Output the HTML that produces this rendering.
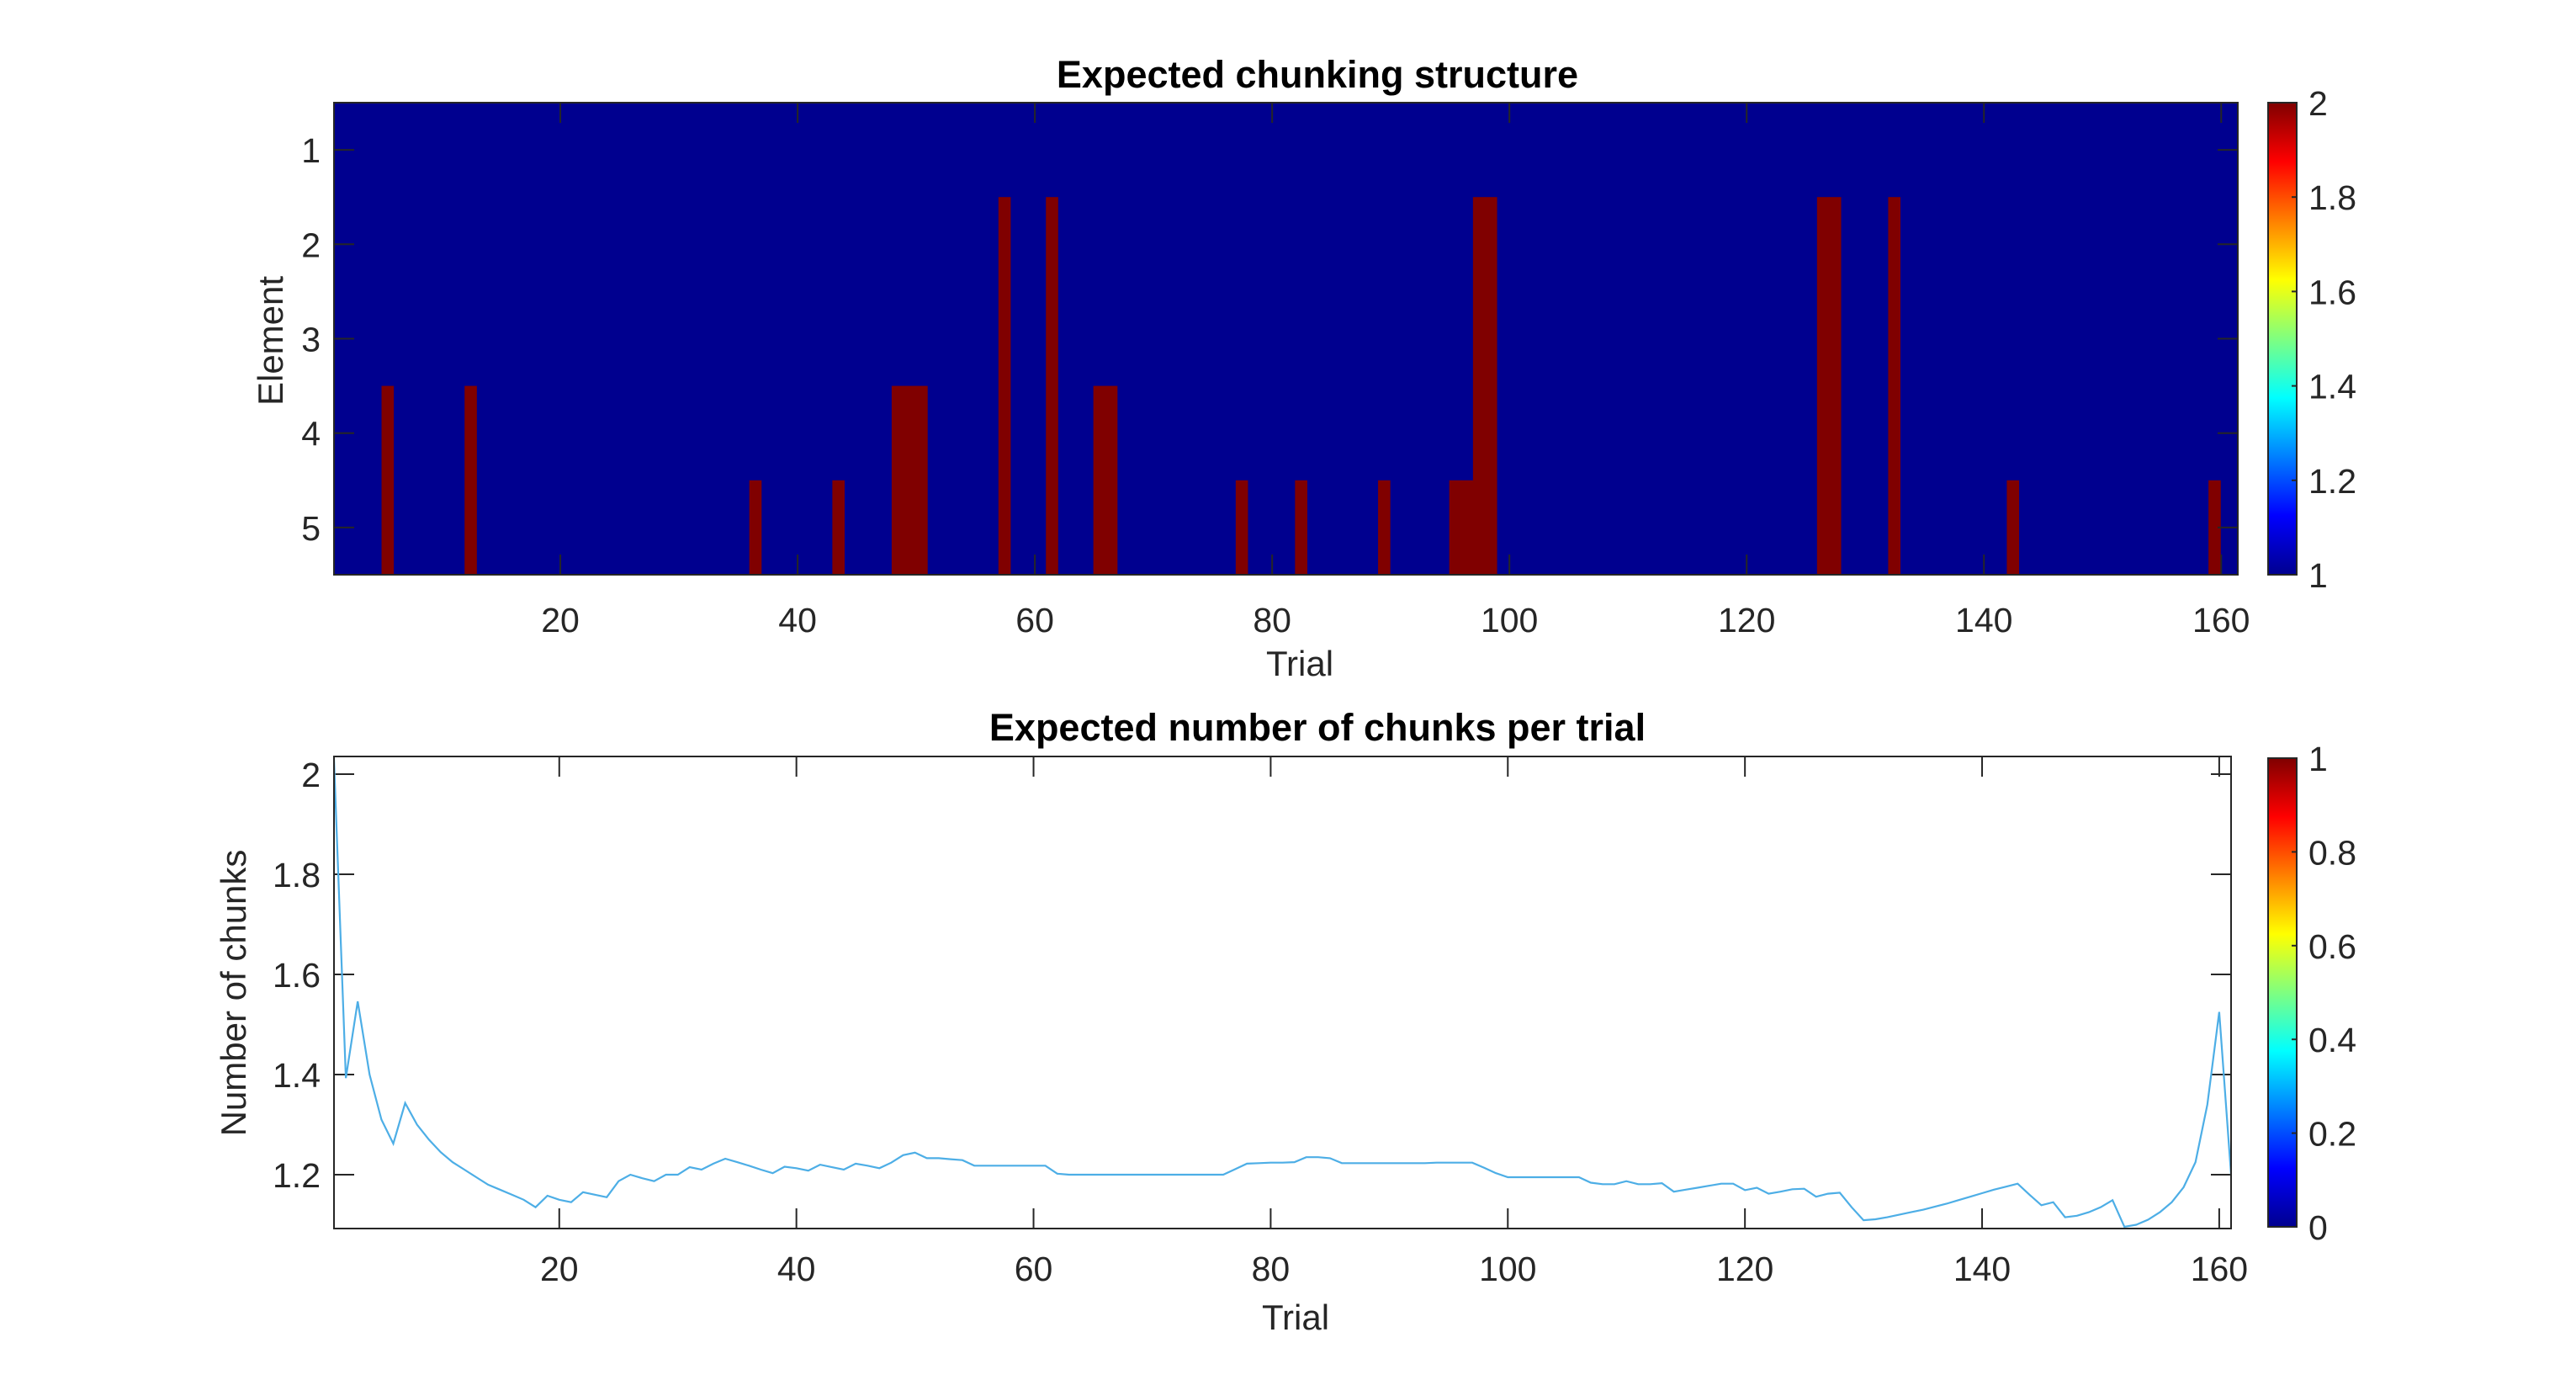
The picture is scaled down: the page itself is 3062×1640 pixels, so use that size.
<!DOCTYPE html>
<html><head><meta charset="utf-8"><style>
html,body{margin:0;padding:0;background:#fff;}
svg{display:block;font-family:"Liberation Sans",Arial,sans-serif;}
</style></head><body>
<svg id="fig" width="3062" height="1640" viewBox="0 0 3062 1640" xmlns="http://www.w3.org/2000/svg">
<defs>
<linearGradient id="jet" x1="0" y1="1" x2="0" y2="0">
<stop offset="0" stop-color="#00008F"/><stop offset="0.125" stop-color="#0000FF"/>
<stop offset="0.375" stop-color="#00FFFF"/><stop offset="0.625" stop-color="#FFFF00"/>
<stop offset="0.875" stop-color="#FF0000"/><stop offset="1" stop-color="#800000"/>
</linearGradient>
</defs>
<text x="1566" y="104" text-anchor="middle" font-size="45" font-weight="bold" fill="#000">Expected chunking structure</text>
<text x="1566" y="880" text-anchor="middle" font-size="45" font-weight="bold" fill="#000">Expected number of chunks per trial</text>
<text x="1545" y="803" text-anchor="middle" font-size="42" fill="#262626">Trial</text>
<text x="1540" y="1580" text-anchor="middle" font-size="42" fill="#262626">Trial</text>
<text transform="translate(336,405) rotate(-90)" text-anchor="middle" font-size="42" fill="#262626">Element</text>
<text transform="translate(292,1180) rotate(-90)" text-anchor="middle" font-size="42" fill="#262626">Number of chunks</text>
<g id="topAx"></g>
<g id="botAx"></g>
</svg>
<script>
// Heatmap data: trials with a chunk boundary (value 2) and the first element row it starts at (extends to row 5)
const chunkTrials = [5,12,36,43,48,49,50,57,61,65,66,77,82,89,95,96,97,98,126,127,132,142,159];
const chunkStartRow = [4,4,5,5,4,4,4,2,2,4,4,5,5,5,5,5,2,2,2,2,2,5,5];
const topXTicks = [20,40,60,80,100,120,140,160];
const topYTicks = [1,2,3,4,5];
const topCbTicks = [1,1.2,1.4,1.6,1.8,2];
// Line data
const nChunks = [2.03,1.393,1.546,1.40,1.31,1.262,1.343,1.30,1.27,1.245,1.225,1.21,1.195,1.18,1.17,1.16,1.15,1.135,1.158,1.15,
1.145,1.165,1.16,1.155,1.187,1.2,1.193,1.187,1.2,1.2,1.215,1.21,1.222,1.232,1.225,1.218,1.21,1.203,1.216,1.213,
1.208,1.22,1.215,1.21,1.222,1.218,1.213,1.224,1.239,1.244,1.233,1.233,1.231,1.229,1.218,1.218,1.218,1.218,1.218,1.218,
1.218,1.202,1.2,1.2,1.2,1.2,1.2,1.2,1.2,1.2,1.2,1.2,1.2,1.2,1.2,1.2,1.211,1.222,1.223,1.224,
1.224,1.225,1.235,1.235,1.233,1.223,1.223,1.223,1.223,1.223,1.223,1.223,1.223,1.224,1.224,1.224,1.224,1.214,1.203,1.195,
1.195,1.195,1.195,1.195,1.195,1.195,1.184,1.181,1.181,1.187,1.181,1.181,1.183,1.166,1.17,1.174,1.178,1.182,1.182,1.169,
1.174,1.162,1.166,1.171,1.172,1.156,1.162,1.164,1.135,1.109,1.111,1.115,1.12,1.125,1.13,1.136,1.142,1.149,1.156,1.163,
1.17,1.176,1.182,1.16,1.139,1.145,1.115,1.118,1.125,1.135,1.149,1.096,1.1,1.11,1.125,1.145,1.175,1.225,1.34,1.525,1.2];
const botXTicks = [20,40,60,80,100,120,140,160];
const botYTicks = [1.2,1.4,1.6,1.8,2];
const botYLabels = ["1.2","1.4","1.6","1.8","2"];
const botCbTicks = [0,0.2,0.4,0.6,0.8,1];

const NS="http://www.w3.org/2000/svg";
function mk(parent,tag,attrs){const e=document.createElementNS(NS,tag);for(const k in attrs)e.setAttribute(k,attrs[k]);parent.appendChild(e);return e;}
function lin(d0,d1,r0,r1){return v=>r0+(v-d0)*(r1-r0)/(d1-d0);}
const TC="#262626";

// ---------- Top heatmap ----------
const topG=document.getElementById('topAx');
const tL=397,tR=2660,tT=122,tB=683;
const xT=lin(0.92,161.4,tL,tR);
const yT=lin(0.5,5.5,tT,tB);
const bg=mk(topG,'rect',{x:tL,y:tT,width:tR-tL,height:tB-tT,fill:'#00008F'});


chunkTrials.forEach((t,i)=>{
  const r=mk(topG,'rect',{x:xT(t)-1,y:yT(chunkStartRow[i]-0.5),width:xT(t+1)-xT(t)+0.5,height:yT(5.5)-yT(chunkStartRow[i]-0.5),fill:'#800000'});
  
  
});
topXTicks.forEach(v=>{
  const x=xT(v);
  mk(topG,'line',{x1:x,y1:tB,x2:x,y2:tB-24,stroke:TC,'stroke-width':2});
  mk(topG,'line',{x1:x,y1:tT,x2:x,y2:tT+24,stroke:TC,'stroke-width':2});
  const tx=mk(topG,'text',{x:x,y:tB+68,'text-anchor':'middle','font-size':41,fill:TC});tx.textContent=v;
  
  
});
topYTicks.forEach(v=>{
  const y=yT(v);
  mk(topG,'line',{x1:tL,y1:y,x2:tL+24,y2:y,stroke:TC,'stroke-width':2});
  mk(topG,'line',{x1:tR,y1:y,x2:tR-24,y2:y,stroke:TC,'stroke-width':2});
  const tx=mk(topG,'text',{x:381,y:y+15,'text-anchor':'end','font-size':41,fill:TC});tx.textContent=v;
  
  
});
const bx=mk(topG,'rect',{x:tL,y:tT,width:tR-tL,height:tB-tT,fill:'none',stroke:TC,'stroke-width':2});


const cL=2696,cR=2730;
const cbT=lin(1,2,683,122);
const cb=mk(topG,'rect',{x:cL,y:122,width:cR-cL,height:561,fill:'url(#jet)',stroke:TC,'stroke-width':2});


topCbTicks.forEach(v=>{
  const y=cbT(v);
  mk(topG,'line',{x1:cR,y1:y,x2:cR-6,y2:y,stroke:TC,'stroke-width':2});
  const tx=mk(topG,'text',{x:2744,y:y+15,'font-size':41,fill:TC});tx.textContent=v;
  
  
});

// ---------- Bottom line ----------
const botG=document.getElementById('botAx');
const bL=397,bR=2652,bT=899,bB=1460;
const xB=lin(1,161,bL,bR);
const yB=lin(2,1.2,920,1396);
botXTicks.forEach(v=>{
  const x=xB(v);
  mk(botG,'line',{x1:x,y1:bB,x2:x,y2:bB-24,stroke:TC,'stroke-width':2});
  mk(botG,'line',{x1:x,y1:bT,x2:x,y2:bT+24,stroke:TC,'stroke-width':2});
  const tx=mk(botG,'text',{x:x,y:bB+62,'text-anchor':'middle','font-size':41,fill:TC});tx.textContent=v;
  
  
});
botYTicks.forEach((v,i)=>{
  const y=yB(v);
  mk(botG,'line',{x1:bL,y1:y,x2:bL+24,y2:y,stroke:TC,'stroke-width':2});
  mk(botG,'line',{x1:bR,y1:y,x2:bR-24,y2:y,stroke:TC,'stroke-width':2});
  const tx=mk(botG,'text',{x:381,y:y+15,'text-anchor':'end','font-size':41,fill:TC});tx.textContent=botYLabels[i];
  
  
});
const clip=mk(botG,'clipPath',{id:'bclip'});mk(clip,'rect',{x:bL,y:bT,width:bR-bL,height:bB-bT});
const pts=nChunks.map((v,i)=>xB(i+1).toFixed(1)+','+yB(v).toFixed(1)).join(' ');
const pl=mk(botG,'polyline',{points:pts,fill:'none',stroke:'#4DAEE6','stroke-width':2.2,'clip-path':'url(#bclip)'});


const bx2=mk(botG,'rect',{x:bL,y:bT,width:bR-bL,height:bB-bT,fill:'none',stroke:TC,'stroke-width':2});


const cbB=lin(0,1,1458,901);
const cb2=mk(botG,'rect',{x:cL,y:901,width:cR-cL,height:557,fill:'url(#jet)',stroke:TC,'stroke-width':2});


botCbTicks.forEach(v=>{
  const y=cbB(v);
  mk(botG,'line',{x1:cR,y1:y,x2:cR-6,y2:y,stroke:TC,'stroke-width':2});
  const tx=mk(botG,'text',{x:2744,y:y+15,'font-size':41,fill:TC});tx.textContent=v;
  
  
});
</script>
</body></html>
